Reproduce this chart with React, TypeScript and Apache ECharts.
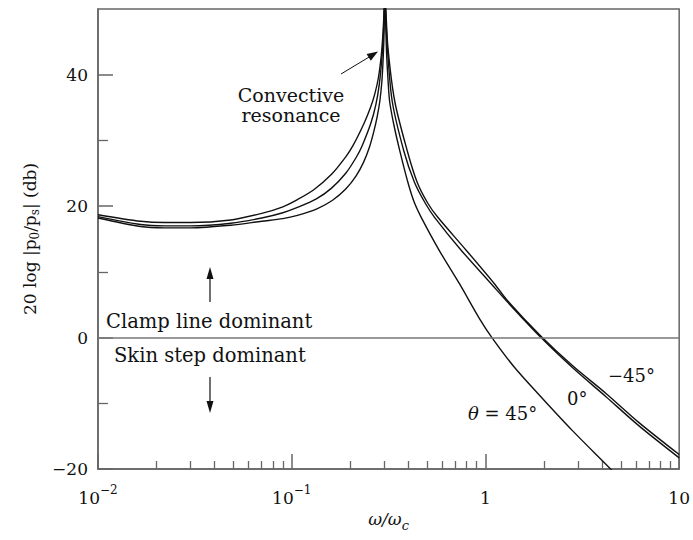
import React, { useEffect, useRef } from 'react';
import * as echarts from 'echarts';

// ---- data ----
// frequency ratio ω/ωc and level in dB, per curve
const W_P45 = [0.01, 0.0166, 0.022, 0.03, 0.0485, 0.07, 0.09, 0.107, 0.135, 0.1625, 0.19, 0.215, 0.235, 0.252, 0.265, 0.276, 0.285, 0.292, 0.297, 0.3, 0.302, 0.304, 0.306, 0.309, 0.313, 0.32, 0.336, 0.36, 0.398, 0.43, 0.466, 0.579, 0.734, 0.931, 1.08, 1.4, 1.89, 2.82, 4.36, 5.0];
const V_P45 = [18.2, 16.9, 16.7, 16.7, 17.1, 17.7, 18.1, 18.6, 19.6, 20.9, 22.6, 24.6, 26.7, 29.0, 31.3, 33.6, 36.0, 39, 43, 47, 53, 50, 47, 43, 40, 36, 32.5, 28.6, 23.6, 20.5, 18.3, 13.2, 8.2, 2.9, 0, -4.4, -8.7, -14.2, -19.8, -21.6];

const W_0 = [0.01, 0.0166, 0.022, 0.03, 0.0485, 0.07, 0.09, 0.107, 0.134, 0.16, 0.19, 0.215, 0.231, 0.256, 0.272, 0.283, 0.292, 0.297, 0.3, 0.302, 0.305, 0.312, 0.33, 0.379, 0.4305, 0.49, 0.546, 0.749, 1.07, 1.3, 1.935, 2.82, 4.19, 6.18, 10];
const V_0 = [18.4, 17.2, 17.0, 17.0, 17.4, 18.2, 19.0, 19.8, 21.1, 22.7, 25.0, 27.4, 29.2, 32.6, 35.5, 38.5, 42.5, 46, 49, 53, 50, 44, 36, 28.4, 23.6, 20.4, 18.3, 13.3, 8.2, 5.4, 0, -4.6, -9.0, -13.4, -18.3];

const W_M45 = [0.01, 0.0166, 0.022, 0.03, 0.0485, 0.07, 0.09, 0.107, 0.13, 0.16, 0.19, 0.207, 0.237, 0.255, 0.268, 0.28, 0.29, 0.296, 0.3, 0.302, 0.306, 0.314, 0.34, 0.395, 0.4446, 0.505, 0.5676, 0.795, 1.112, 1.3, 1.935, 2.82, 4.19, 6.18, 10];
const V_M45 = [18.7, 17.7, 17.5, 17.5, 17.9, 18.9, 19.9, 21.0, 22.5, 24.8, 27.5, 29.2, 32.7, 35, 37, 39.5, 43, 46.5, 50, 53, 50, 44, 36, 28.4, 23.6, 20.4, 18.3, 13.3, 8.2, 5.6, 0.2, -4.3, -8.5, -12.9, -17.8];

const X_MINOR = [0.02, 0.03, 0.04, 0.05, 0.06, 0.07, 0.08, 0.09, 0.2, 0.3, 0.4, 0.5, 0.6, 0.7, 0.8, 0.9, 2, 3, 4, 5, 6, 7, 8, 9];
const Y_MAJOR = [-20, 0, 20, 40];
const Y_MINOR = [-10, 10, 30];
const X_LABELS: Record<string, string> = { '-2': '{b|10}{s|−2}', '-1': '{b|10}{s|−1}', '0': '{b|1}', '1': '{b|10}' };

const FONT = '"DejaVu Serif", serif';
const AXIS_COLOR = '#666';
const INK = '#111';
const ANN = 19;

function pairs(w: number[], v: number[]) {
  return w.map((x, i) => [x, v[i]]);
}

export default function App() {
  const ref = useRef<HTMLDivElement>(null);
  useEffect(() => {
    document.body.style.margin = '0';
    const chart = echarts.init(ref.current!, null, { renderer: 'svg' });
    const lineSeries = (name: string, data: number[][]) => ({
      name,
      type: 'line',
      data,
      xAxisIndex: 0,
      yAxisIndex: 0,
      showSymbol: false,
      symbol: 'none',
      smooth: 0.3,
      clip: true,
      lineStyle: { color: INK, width: 1.4 },
      silent: true,
    });
    const txt = (text: string, x: number, y: number, extra: any = {}) => ({
      type: 'text',
      style: { text, x, y, align: 'left', verticalAlign: 'middle', fontFamily: FONT, fontSize: ANN, fill: INK, ...extra },
    });
    const option: any = {
      animation: false,
      textStyle: { fontFamily: FONT },
      grid: { left: 98, right: 13, top: 9, bottom: 71, show: true, borderColor: AXIS_COLOR, borderWidth: 1.5, backgroundColor: 'transparent' },
      xAxis: [
        {
          type: 'log',
          logBase: 10,
          min: 0.01,
          max: 10,
          axisLine: { onZero: false, lineStyle: { color: AXIS_COLOR, width: 1.5 } },
          axisTick: { inside: true, length: 15, lineStyle: { color: AXIS_COLOR, width: 1.5 } },
          splitLine: { show: false },
          minorTick: { show: false },
          axisLabel: {
            margin: 13,
            color: INK,
            formatter: (v: number) => X_LABELS[String(Math.round(Math.log10(v)))] || '',
            rich: {
              b: { fontFamily: FONT, fontSize: 17, color: INK, padding: [7, 0, 0, 0] },
              s: { fontFamily: FONT, fontSize: 12, color: INK, padding: [0, 0, 8, 0] },
            },
          },
          name: '{i|ω/ω}{c|c}',
          nameLocation: 'middle',
          nameGap: 41,
          nameTextStyle: {
            rich: {
              i: { fontFamily: FONT, fontStyle: 'italic', fontSize: 17, color: INK, padding: [0, 0, 5, 0] },
              c: { fontFamily: FONT, fontStyle: 'italic', fontSize: 13, color: INK, padding: [7, 0, 0, 0] },
            },
          },
        },
        {
          type: 'value',
          min: -2,
          max: 1,
          position: 'bottom',
          axisLine: { show: false, onZero: false },
          axisLabel: { show: false },
          splitLine: { show: false },
          axisTick: {
            show: true,
            inside: true,
            length: 8,
            customValues: X_MINOR.map((m) => Math.log10(m)),
            lineStyle: { color: AXIS_COLOR, width: 1.3 },
          },
        },
      ],
      yAxis: [
        {
          type: 'value',
          min: -20,
          max: 50,
          interval: 10,
          axisLine: { show: true, onZero: false, lineStyle: { color: AXIS_COLOR, width: 1.5 } },
          axisTick: { show: true, inside: true, length: 15, customValues: Y_MAJOR, lineStyle: { color: AXIS_COLOR, width: 1.5 } },
          splitLine: { show: false },
          axisLabel: {
            margin: 10,
            color: INK,
            fontFamily: FONT,
            fontSize: 17,
            customValues: Y_MAJOR,
            formatter: (v: number) => (v < 0 ? '−' + Math.abs(v) : String(v)),
          },
          name: '{n|20 log |p}{sub|0}{n|/p}{sub|s}{n|| (db)}',
          nameLocation: 'middle',
          nameGap: 53,
          nameTextStyle: {
            rich: {
              n: { fontFamily: FONT, fontSize: 17, color: INK, padding: [0, 0, 4, 0] },
              sub: { fontFamily: FONT, fontSize: 12, color: INK, padding: [6, 0, 0, 0] },
            },
          },
        },
        {
          type: 'value',
          min: -20,
          max: 50,
          interval: 10,
          position: 'left',
          axisLine: { show: false, onZero: false },
          axisLabel: { show: false },
          splitLine: { show: false },
          axisTick: { show: true, inside: true, length: 10, customValues: Y_MINOR, lineStyle: { color: AXIS_COLOR, width: 1.3 } },
        },
      ],
      series: [
        {
          ...lineSeries('θ = 45°', pairs(W_P45, V_P45)),
          markLine: {
            silent: true,
            symbol: 'none',
            label: { show: false },
            lineStyle: { color: '#777', width: 1.5, type: 'solid' },
            data: [{ yAxis: 0 }],
          },
        },
        lineSeries('0°', pairs(W_0, V_0)),
        lineSeries('−45°', pairs(W_M45, V_M45)),
      ],
      graphic: [
        txt('Convective', 291, 95, { align: 'center' }),
        txt('resonance', 291, 115, { align: 'center' }),
        { type: 'line', shape: { x1: 341, y1: 74, x2: 370, y2: 56.5 }, style: { stroke: INK, lineWidth: 1 } },
        { type: 'polygon', shape: { points: [[378, 51.5], [370.8, 60.7], [366.6, 53.9]] }, style: { fill: INK } },
        { type: 'line', shape: { x1: 210, y1: 302, x2: 210, y2: 276 }, style: { stroke: INK, lineWidth: 1.2 } },
        { type: 'polygon', shape: { points: [[210, 267], [206.5, 279], [213.5, 279]] }, style: { fill: INK } },
        { type: 'line', shape: { x1: 210, y1: 377, x2: 210, y2: 404 }, style: { stroke: INK, lineWidth: 1.2 } },
        { type: 'polygon', shape: { points: [[210, 413], [206.5, 401], [213.5, 401]] }, style: { fill: INK } },
        txt('Clamp line dominant', 106, 321, { fontSize: 19.5 }),
        txt('Skin step dominant', 114, 355, { fontSize: 19.5 }),
        txt('{i|θ} = 45°', 468, 413, { fontSize: 18, rich: { i: { fontFamily: FONT, fontStyle: 'italic', fontSize: 18, fill: INK } } }),
        txt('0°', 567, 398, { fontSize: 18 }),
        txt('−45°', 608, 375, { fontSize: 18 }),
      ],
    };
    chart.setOption(option);
    return () => chart.dispose();
  }, []);
  return <div ref={ref} style={{ width: 693, height: 540 }} />;
}
